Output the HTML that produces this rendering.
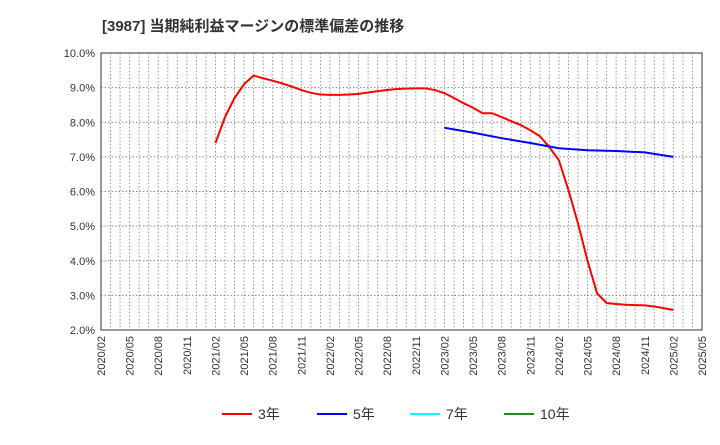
<!DOCTYPE html>
<html><head><meta charset="utf-8"><style>
body{margin:0;background:#fff;}
svg text{font-family:"Liberation Sans","Noto Sans CJK JP",sans-serif;}
</style></head><body>
<svg id="chart" width="720" height="440" xmlns="http://www.w3.org/2000/svg">
<text x="102" y="31" font-size="15" font-weight="bold" fill="#333">[3987]  当期純利益マージンの標準偏差の推移</text>
<g id="grid"></g>
<g id="axes"></g>
<g id="series"></g>
<g id="legend"></g>
</svg>
<script>
const xTickLabels=["2020/02","2020/05","2020/08","2020/11","2021/02","2021/05","2021/08","2021/11","2022/02","2022/05","2022/08","2022/11","2023/02","2023/05","2023/08","2023/11","2024/02","2024/05","2024/08","2024/11","2025/02","2025/05"];
const yTicks=[2,3,4,5,6,7,8,9,10];
// month index from 2020/02
const redStart=12;
const red3=[7.4,8.15,8.7,9.1,9.35,9.27,9.2,9.12,9.03,8.93,8.85,8.8,8.79,8.79,8.8,8.82,8.86,8.9,8.93,8.96,8.97,8.98,8.98,8.93,8.84,8.7,8.55,8.42,8.26,8.26,8.15,8.03,7.92,7.77,7.6,7.28,6.9,6.04,5.08,4.0,3.06,2.78,2.75,2.73,2.72,2.71,2.68,2.63,2.58];
const blueMonths=[36,39,42,45,48,51,54,57,60];
const blue5=[7.84,7.7,7.54,7.4,7.25,7.19,7.17,7.13,7.0];
const legendNames=["3年","5年","7年","10年"];
const legendColors=["#ff0000","#0000ff","#00ffff","#228b22"];

const L=101,R=702,T=53,B=330,NM=63;
const X=m=>L+(R-L)*m/NM;
const Y=v=>B-(B-T)*(v-2)/8;
const ns="http://www.w3.org/2000/svg";
function mk(tag,attrs,parent){const e=document.createElementNS(ns,tag);for(const k in attrs)e.setAttribute(k,attrs[k]);parent.appendChild(e);return e;}
const grid=document.getElementById('grid'),axes=document.getElementById('axes'),series=document.getElementById('series'),legend=document.getElementById('legend');
for(let m=1;m<NM;m++){const l=mk('line',{x1:X(m),x2:X(m),y1:T,y2:B,stroke:'#999','stroke-dasharray':'1.5,2','stroke-width':1},grid);

}
yTicks.forEach(v=>{if(v>2&&v<10){const l=mk('line',{x1:L,x2:R,y1:Y(v),y2:Y(v),stroke:'#888','stroke-dasharray':'1.5,2','stroke-width':1},grid);

}
const t=mk('text',{x:L-6,y:Y(v)+4,'text-anchor':'end','font-size':11,fill:'#333'},axes);t.textContent=v.toFixed(1)+'%';

});
const fr=mk('rect',{x:L,y:T,width:R-L,height:B-T,fill:'none',stroke:'#333','stroke-width':1},axes);


xTickLabels.forEach((s,i)=>{const x=X(i*3);const t=mk('text',{x:x+4,y:B+6,'text-anchor':'end','font-size':11,fill:'#333',transform:`rotate(-90 ${x+4} ${B+6})`},axes);t.textContent=s;

});
const rp=mk('polyline',{points:red3.map((v,i)=>X(redStart+i)+','+Y(v)).join(' '),fill:'none',stroke:'#ff0000','stroke-width':2},series);


const bp=mk('polyline',{points:blue5.map((v,i)=>X(blueMonths[i])+','+Y(v)).join(' '),fill:'none',stroke:'#0000ff','stroke-width':2},series);


const lx=[222,317,410,504];
legendNames.forEach((n,i)=>{const g=mk('g',{},legend);


mk('line',{x1:lx[i],x2:lx[i]+30,y1:414,y2:414,stroke:legendColors[i],'stroke-width':2},g);
const t=mk('text',{x:lx[i]+36,y:419,'font-size':14,fill:'#333'},g);t.textContent=n;});
</script>
</body></html>
